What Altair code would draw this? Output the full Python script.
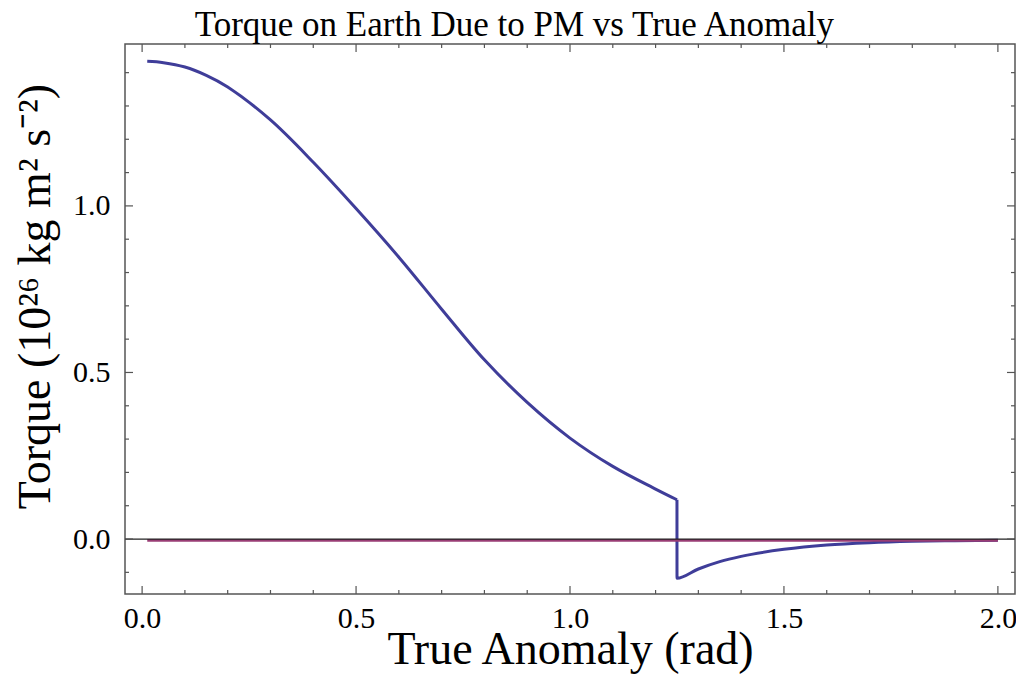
import altair as alt
import pandas as pd

# ---- data ----
# branch before the discontinuity
theta_a = [0.012, 0.05, 0.1, 0.15, 0.2, 0.3, 0.4, 0.5, 0.6, 0.7, 0.8, 0.9, 1.0, 1.1, 1.2, 1.25]
torque_a = [1.434, 1.430, 1.417, 1.392, 1.357, 1.258, 1.131, 0.992, 0.846, 0.690, 0.538, 0.410, 0.303,
            0.218, 0.150, 0.118]
# jump and branch after the discontinuity
theta_b = [1.25, 1.2501, 1.3, 1.35, 1.4, 1.5, 1.6, 1.7, 1.8, 1.9, 2.0]
torque_b = [0.118, -0.118, -0.09, -0.068, -0.052, -0.031, -0.018, -0.011, -0.007, -0.005, -0.004]
# second (flat) series
ref_theta = [0.012, 2.0]
ref_torque = [-0.004, -0.004]
zero_line = [0.0]

x_major = [0.0, 0.5, 1.0, 1.5, 2.0]
x_minor = [0.1, 0.2, 0.3, 0.4, 0.6, 0.7, 0.8, 0.9, 1.1, 1.2, 1.3, 1.4, 1.6, 1.7, 1.8, 1.9]
y_major = [0.0, 0.5, 1.0]
y_minor = [-0.1, 0.1, 0.2, 0.3, 0.4, 0.6, 0.7, 0.8, 0.9, 1.1, 1.2, 1.3, 1.4]

X_DOMAIN = [-0.04, 2.04]
Y_DOMAIN = [-0.165, 1.486]
W, H = 890, 550
FONT = "Liberation Serif"
BLUE = "#3f3d99"
RED = "#993d74"
FRAME = "#555555"

xs = alt.Scale(domain=X_DOMAIN, nice=False, zero=False)
ys = alt.Scale(domain=Y_DOMAIN, nice=False, zero=False)

x_axis = alt.Axis(values=x_major, format=".1f", title="True Anomaly (rad)",
                  titleFontSize=46, titlePadding=-6, labelPadding=9)
y_axis = alt.Axis(values=y_major, format=".1f", title="Torque (10²⁶ kg m² s⁻²)",
                  titleFontSize=46, titleAngle=-90, titleX=-90, titleY=252,
                  titleAlign="center", titleBaseline="middle", labelPadding=15)

main_a = alt.Chart(pd.DataFrame({"theta": theta_a, "torque": torque_a})).mark_line(
    color=BLUE, strokeWidth=3, interpolate="catmull-rom").encode(
    x=alt.X("theta:Q", scale=xs, axis=x_axis),
    y=alt.Y("torque:Q", scale=ys, axis=y_axis),
)
main_b = alt.Chart(pd.DataFrame({"theta": theta_b, "torque": torque_b})).mark_line(
    color=BLUE, strokeWidth=3, interpolate="monotone").encode(
    x=alt.X("theta:Q", scale=xs),
    y=alt.Y("torque:Q", scale=ys),
)

ref = alt.Chart(pd.DataFrame({"theta": ref_theta, "torque": ref_torque})).mark_line(
    color=RED, strokeWidth=2.6).encode(
    x=alt.X("theta:Q", scale=xs),
    y=alt.Y("torque:Q", scale=ys),
)

zero = alt.Chart(pd.DataFrame({"torque": zero_line})).mark_rule(color="#222222", strokeWidth=1.3).encode(
    y=alt.Y("torque:Q", scale=ys),
    x=alt.value(0), x2=alt.value(W),
)


def xticks(vals, length):
    df = pd.DataFrame({"theta": vals})
    bottom = alt.Chart(df).mark_rule(color=FRAME, strokeWidth=1.2).encode(
        x=alt.X("theta:Q", scale=xs), y=alt.value(H), y2=alt.value(H - length))
    top = alt.Chart(df).mark_rule(color=FRAME, strokeWidth=1.2).encode(
        x=alt.X("theta:Q", scale=xs), y=alt.value(0), y2=alt.value(length))
    return [bottom, top]


def yticks(vals, length):
    df = pd.DataFrame({"torque": vals})
    left = alt.Chart(df).mark_rule(color=FRAME, strokeWidth=1.2).encode(
        y=alt.Y("torque:Q", scale=ys), x=alt.value(0), x2=alt.value(length))
    right = alt.Chart(df).mark_rule(color=FRAME, strokeWidth=1.2).encode(
        y=alt.Y("torque:Q", scale=ys), x=alt.value(W), x2=alt.value(W - length))
    return [left, right]


tick_layers = xticks(x_major, 8) + xticks(x_minor, 4) + yticks(y_major, 8) + yticks(y_minor, 4)

chart = alt.layer(
    main_a, main_b, ref, zero, *tick_layers
).properties(
    width=W, height=H,
    padding={"left": 117, "top": 36, "right": 1, "bottom": 88},
    autosize=alt.AutoSizeParams(type="none"),
    title=alt.TitleParams(
        text="Torque on Earth Due to PM vs True Anomaly",
        font=FONT, fontSize=35, fontWeight="normal", color="black",
        anchor="middle", frame="bounds", offset=0,
    ),
).configure_axis(
    domain=False, ticks=False, grid=False,
    labelFont=FONT, labelFontSize=30, labelColor="black",
    titleFont=FONT, titleFontWeight="normal", titleColor="black",
).configure_view(
    stroke=FRAME, strokeWidth=1.5
)

chart.save("out.html", embed_options={"renderer": "svg", "actions": False})
